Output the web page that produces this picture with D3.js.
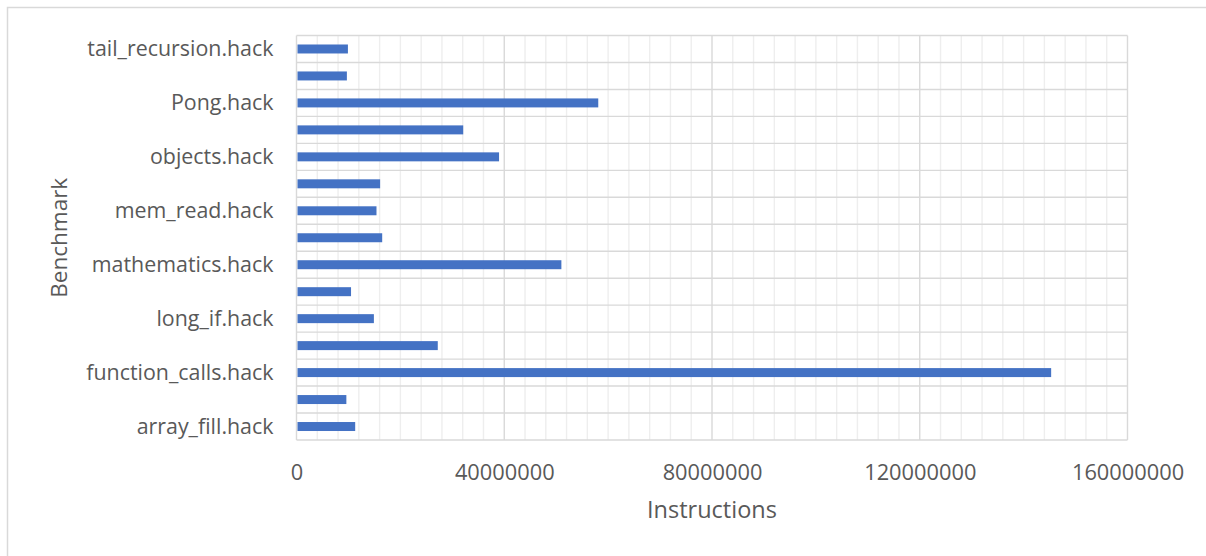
<!DOCTYPE html>
<html>
<head>
<meta charset="utf-8">
<script src="https://cdn.jsdelivr.net/npm/d3@7"></script>
<style>
  html, body { margin: 0; padding: 0; background: #fff; }
  svg { display: block; }
  text { font-family: "Open Sans", "Noto Sans", sans-serif; fill: #595959; }
</style>
</head>
<body>
<svg id="chart" width="1206" height="556"></svg>
<script>
// Benchmarks, listed bottom to top as they appear on the category axis
const benchmarks = [
  "array_fill.hack", "fibonacci.hack", "function_calls.hack", "if_else.hack",
  "long_if.hack", "loop.hack", "mathematics.hack", "matrix.hack",
  "mem_read.hack", "mem_write.hack", "objects.hack", "pointers.hack",
  "Pong.hack", "sort.hack", "tail_recursion.hack"
];
// Executed instruction counts per benchmark
const instructions = [
  11300000, 9600000, 145300000, 27200000,
  14900000, 10500000, 51000000, 16500000,
  15400000, 16100000, 39000000, 32100000,
  58100000, 9700000, 9900000
];
const xTicks = [0, 40000000, 80000000, 120000000, 160000000];
const xMax = 160000000;
const minorStep = 4000000;

const svg = d3.select("#chart");
const plot = { left: 296.5, right: 1127.5, top: 35.5, bottom: 440 };

// chart frame
svg.append("rect")
  .attr("x", 7.5).attr("y", 7.5).attr("width", 1210).attr("height", 560)
  .attr("fill", "#fff").attr("stroke", "#d9d9d9").attr("stroke-width", 1.5);

const x = d3.scaleLinear().domain([0, xMax]).range([plot.left, plot.right]);
const y = d3.scaleBand()
  .domain(benchmarks.slice().reverse())
  .range([plot.top, plot.bottom])
  .paddingInner(2 / 3).paddingOuter(1 / 3);
const yBounds = d3.scaleLinear().domain([0, benchmarks.length]).range([plot.top, plot.bottom]);

const grid = svg.append("g");
// minor vertical gridlines
grid.selectAll("line.minor")
  .data(d3.range(0, xMax + 1, minorStep).filter(v => v % 40000000 !== 0))
  .join("line")
  .attr("x1", d => x(d)).attr("x2", d => x(d))
  .attr("y1", plot.top).attr("y2", plot.bottom)
  .attr("stroke", "#eeeeee").attr("stroke-width", 1.4);
// horizontal gridlines between categories
grid.selectAll("line.cat")
  .data(d3.range(0, benchmarks.length + 1))
  .join("line")
  .attr("x1", plot.left).attr("x2", plot.right)
  .attr("y1", d => yBounds(d)).attr("y2", d => yBounds(d))
  .attr("stroke", "#d9d9d9").attr("stroke-width", 1.4);
// major vertical gridlines
grid.selectAll("line.major")
  .data(xTicks)
  .join("line")
  .attr("x1", d => x(d)).attr("x2", d => x(d))
  .attr("y1", plot.top).attr("y2", plot.bottom)
  .attr("stroke", "#d9d9d9").attr("stroke-width", 1.4);

// bars
svg.append("g").selectAll("rect")
  .data(benchmarks.map((b, i) => ({ b, v: instructions[i] })))
  .join("rect")
  .attr("x", x(0) + 1)
  .attr("y", d => y(d.b))
  .attr("width", d => x(d.v) - x(0) - 1)
  .attr("height", y.bandwidth())
  .attr("fill", "#4472c4");

// value axis
const xAxis = d3.axisBottom(x).tickValues(xTicks).tickSize(0).tickPadding(0)
  .tickFormat(d3.format("d"));
const gx = svg.append("g").attr("transform", `translate(0,${plot.bottom})`).call(xAxis);
gx.select(".domain").remove();
gx.selectAll("text")
  .attr("y", 39.5).attr("dy", null)
  .style("font-size", "21.8px").attr("fill", "#595959");

// category axis, labels on every other benchmark
const yAxis = d3.axisLeft(y).tickSize(0).tickPadding(23)
  .tickFormat((d, i) => benchmarks.indexOf(d) % 2 === 0 ? d : "");
const gy = svg.append("g").attr("transform", `translate(${plot.left},0)`).call(yAxis);
gy.select(".domain").remove();
gy.selectAll("text").style("font-size", "21.4px").attr("fill", "#595959").attr("dy", "0.35em");

// axis titles
svg.append("text")
  .attr("x", (plot.left + plot.right) / 2).attr("y", 518)
  .attr("text-anchor", "middle").style("font-size", "23.5px")
  .text("Instructions");
svg.append("text")
  .attr("transform", `translate(67,${(plot.top + plot.bottom) / 2}) rotate(-90)`)
  .attr("text-anchor", "middle").style("font-size", "22.5px")
  .text("Benchmark");
</script>
</body>
</html>
